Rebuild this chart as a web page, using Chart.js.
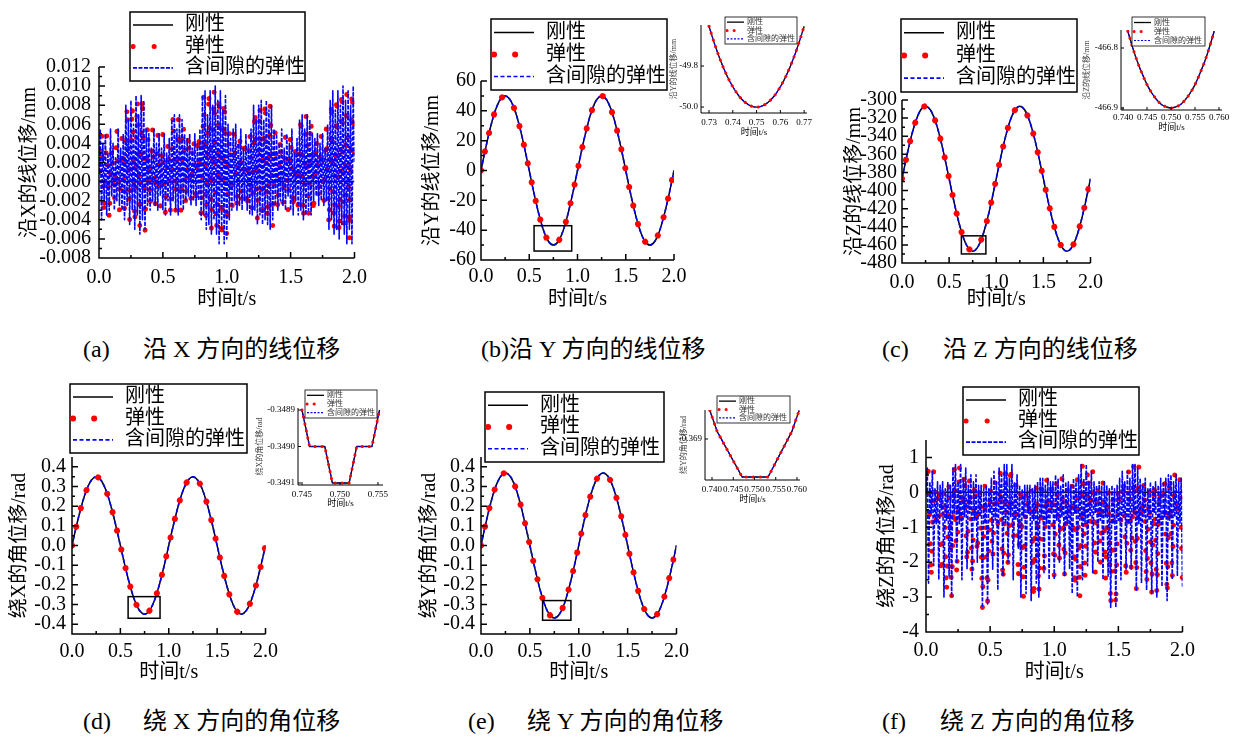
<!DOCTYPE html>
<html>
<head>
<meta charset="utf-8">
<script src="https://cdn.jsdelivr.net/npm/chart.js@4.4.1/dist/chart.umd.min.js"></script>
<style>
  body { margin: 0; background: #fff; }
  #page { position: relative; width: 1234px; height: 737px; overflow: hidden; background: #fff;
          font-family: "Liberation Serif", "Noto Sans CJK SC", serif; }
  #page canvas { position: absolute; }
  .cap { position: absolute; font-size: 24px; line-height: 24px; white-space: pre; color: #000; }
</style>
</head>
<body>
<div id="page">
  <div class="cap" style="left:83px;top:337px">(a)</div>
  <div class="cap" style="left:143px;top:337px">沿 X 方向的线位移</div>
  <div class="cap" style="left:481px;top:337px">(b)沿 Y 方向的线位移</div>
  <div class="cap" style="left:882px;top:337px">(c)</div>
  <div class="cap" style="left:943px;top:337px">沿 Z 方向的线位移</div>
  <div class="cap" style="left:83px;top:709px">(d)</div>
  <div class="cap" style="left:143px;top:709px">绕 X 方向的角位移</div>
  <div class="cap" style="left:468px;top:709px">(e)</div>
  <div class="cap" style="left:527px;top:709px">绕 Y 方向的角位移</div>
  <div class="cap" style="left:882px;top:709px">(f)</div>
  <div class="cap" style="left:940px;top:709px">绕 Z 方向的角位移</div>
</div>
<script>
const FONT = '"Liberation Serif", "Noto Sans CJK SC", serif';
const NAMES = ['刚性', '弹性', '含间隙的弹性'];
const X_TITLE = '时间t/s';

// time grids
const tCoarse = [0, 0.05, 0.10, 0.15, 0.20, 0.25, 0.30, 0.35, 0.40, 0.45,
  0.50, 0.55, 0.60, 0.65, 0.70, 0.75, 0.80, 0.85, 0.90, 0.95,
  1.00, 1.05, 1.10, 1.15, 1.20, 1.25, 1.30, 1.35, 1.40, 1.45,
  1.50, 1.55, 1.60, 1.65, 1.70, 1.75, 1.80, 1.85, 1.90, 1.95, 2.00];
const tFine = [0, 0.02, 0.04, 0.06, 0.08, 0.10, 0.12, 0.14, 0.16, 0.18,
  0.20, 0.22, 0.24, 0.26, 0.28, 0.30, 0.32, 0.34, 0.36, 0.38,
  0.40, 0.42, 0.44, 0.46, 0.48, 0.50, 0.52, 0.54, 0.56, 0.58,
  0.60, 0.62, 0.64, 0.66, 0.68, 0.70, 0.72, 0.74, 0.76, 0.78,
  0.80, 0.82, 0.84, 0.86, 0.88, 0.90, 0.92, 0.94, 0.96, 0.98,
  1.00, 1.02, 1.04, 1.06, 1.08, 1.10, 1.12, 1.14, 1.16, 1.18,
  1.20, 1.22, 1.24, 1.26, 1.28, 1.30, 1.32, 1.34, 1.36, 1.38,
  1.40, 1.42, 1.44, 1.46, 1.48, 1.50, 1.52, 1.54, 1.56, 1.58,
  1.60, 1.62, 1.64, 1.66, 1.68, 1.70, 1.72, 1.74, 1.76, 1.78,
  1.80, 1.82, 1.84, 1.86, 1.88, 1.90, 1.92, 1.94, 1.96, 1.98, 2.00];
const tDense = [0, 0.01, 0.02, 0.03, 0.04, 0.05, 0.06, 0.07, 0.08, 0.09,
  0.10, 0.11, 0.12, 0.13, 0.14, 0.15, 0.16, 0.17, 0.18, 0.19,
  0.20, 0.21, 0.22, 0.23, 0.24, 0.25, 0.26, 0.27, 0.28, 0.29,
  0.30, 0.31, 0.32, 0.33, 0.34, 0.35, 0.36, 0.37, 0.38, 0.39,
  0.40, 0.41, 0.42, 0.43, 0.44, 0.45, 0.46, 0.47, 0.48, 0.49,
  0.50, 0.51, 0.52, 0.53, 0.54, 0.55, 0.56, 0.57, 0.58, 0.59,
  0.60, 0.61, 0.62, 0.63, 0.64, 0.65, 0.66, 0.67, 0.68, 0.69,
  0.70, 0.71, 0.72, 0.73, 0.74, 0.75, 0.76, 0.77, 0.78, 0.79,
  0.80, 0.81, 0.82, 0.83, 0.84, 0.85, 0.86, 0.87, 0.88, 0.89,
  0.90, 0.91, 0.92, 0.93, 0.94, 0.95, 0.96, 0.97, 0.98, 0.99,
  1.00, 1.01, 1.02, 1.03, 1.04, 1.05, 1.06, 1.07, 1.08, 1.09,
  1.10, 1.11, 1.12, 1.13, 1.14, 1.15, 1.16, 1.17, 1.18, 1.19,
  1.20, 1.21, 1.22, 1.23, 1.24, 1.25, 1.26, 1.27, 1.28, 1.29,
  1.30, 1.31, 1.32, 1.33, 1.34, 1.35, 1.36, 1.37, 1.38, 1.39,
  1.40, 1.41, 1.42, 1.43, 1.44, 1.45, 1.46, 1.47, 1.48, 1.49,
  1.50, 1.51, 1.52, 1.53, 1.54, 1.55, 1.56, 1.57, 1.58, 1.59,
  1.60, 1.61, 1.62, 1.63, 1.64, 1.65, 1.66, 1.67, 1.68, 1.69,
  1.70, 1.71, 1.72, 1.73, 1.74, 1.75, 1.76, 1.77, 1.78, 1.79,
  1.80, 1.81, 1.82, 1.83, 1.84, 1.85, 1.86, 1.87, 1.88, 1.89,
  1.90, 1.91, 1.92, 1.93, 1.94, 1.95, 1.96, 1.97, 1.98, 1.99, 2.00];
const tEnds = [0, 2];
const rigidZero = [0, 0];

// (a) 沿X的线位移/mm : elastic (red) and elastic with clearance (blue)
const xLinear = [0.0010, 0.0055, -0.0040, 0.0050, -0.0040, 0.0040, -0.0025, 0.0055, -0.0030, 0.0050,
  -0.0030, 0.0080, -0.0040, 0.0085, -0.0045, 0.0090, -0.0050, 0.0090, -0.0055, 0.0060,
  -0.0030, 0.0055, -0.0025, 0.0050, -0.0030, 0.0050, -0.0035, 0.0045, -0.0035, 0.0070,
  -0.0030, 0.0070, -0.0035, 0.0065, -0.0030, 0.0050, -0.0020, 0.0050, -0.0025, 0.0055,
  -0.0040, 0.0090, -0.0045, 0.0095, -0.0050, 0.0100, -0.0055, 0.0095, -0.0065, 0.0090,
  -0.0060, 0.0060, -0.0040, 0.0055, -0.0030, 0.0055, -0.0025, 0.0050, -0.0030, 0.0055,
  -0.0035, 0.0080, -0.0040, 0.0080, -0.0045, 0.0085, -0.0045, 0.0080, -0.0050, 0.0055,
  -0.0030, 0.0050, -0.0025, 0.0050, -0.0030, 0.0055, -0.0030, 0.0045, -0.0035, 0.0070,
  -0.0040, 0.0070, -0.0035, 0.0065, -0.0035, 0.0050, -0.0020, 0.0050, -0.0025, 0.0060,
  -0.0050, 0.0085, -0.0055, 0.0095, -0.0060, 0.0100, -0.0055, 0.0095, -0.0065, 0.0100, 0.0020];
const xLinearGap = [0.0010, 0.0055, -0.0040, 0.0040, -0.0020, 0.0050, -0.0035, 0.0030, -0.0030, 0.0055,
  -0.0015, 0.0040, -0.0030, 0.0025, -0.0020, 0.0055, -0.0025, 0.0035, -0.0030, 0.0050,
  -0.0040, 0.0080, -0.0025, 0.0065, -0.0045, 0.0085, -0.0030, 0.0060, -0.0050, 0.0090,
  -0.0035, 0.0070, -0.0055, 0.0090, -0.0040, 0.0085, -0.0050, 0.0055, -0.0025, 0.0050,
  -0.0030, 0.0035, -0.0020, 0.0055, -0.0025, 0.0040, -0.0030, 0.0050, -0.0015, 0.0035,
  -0.0030, 0.0050, -0.0035, 0.0030, -0.0020, 0.0045, -0.0035, 0.0065, -0.0020, 0.0070,
  -0.0030, 0.0055, -0.0035, 0.0070, -0.0025, 0.0065, -0.0030, 0.0050, -0.0020, 0.0045,
  -0.0015, 0.0050, -0.0025, 0.0035, -0.0020, 0.0050, -0.0025, 0.0040, -0.0020, 0.0055,
  -0.0040, 0.0090, -0.0035, 0.0095, -0.0050, 0.0070, -0.0045, 0.0095, -0.0055, 0.0080,
  -0.0040, 0.0100, -0.0055, 0.0085, -0.0065, 0.0095, -0.0050, 0.0075, -0.0065, 0.0090,
  -0.0060, 0.0060, -0.0040, 0.0045, -0.0030, 0.0055, -0.0020, 0.0060, -0.0030, 0.0040,
  -0.0025, 0.0055, -0.0030, 0.0035, -0.0020, 0.0050, -0.0030, 0.0040, -0.0035, 0.0055,
  -0.0035, 0.0080, -0.0030, 0.0065, -0.0045, 0.0080, -0.0035, 0.0085, -0.0045, 0.0065,
  -0.0040, 0.0085, -0.0045, 0.0075, -0.0050, 0.0080, -0.0040, 0.0055, -0.0025, 0.0050,
  -0.0030, 0.0040, -0.0020, 0.0055, -0.0025, 0.0035, -0.0030, 0.0050, -0.0015, 0.0040,
  -0.0030, 0.0055, -0.0035, 0.0030, -0.0020, 0.0045, -0.0035, 0.0065, -0.0030, 0.0070,
  -0.0040, 0.0055, -0.0035, 0.0070, -0.0030, 0.0065, -0.0035, 0.0050, -0.0020, 0.0045,
  -0.0015, 0.0050, -0.0025, 0.0040, -0.0020, 0.0050, -0.0025, 0.0035, -0.0020, 0.0060,
  -0.0050, 0.0085, -0.0040, 0.0095, -0.0055, 0.0075, -0.0050, 0.0095, -0.0060, 0.0080,
  -0.0045, 0.0100, -0.0055, 0.0085, -0.0065, 0.0095, -0.0050, 0.0080, -0.0065, 0.0100, 0.0020];

// (b) 沿Y的线位移/mm
const yLinear = [0, 15.5, 29.4, 40.5, 47.6, 50, 47.6, 40.5, 29.4, 15.5,
  0, -15.5, -29.4, -40.5, -47.6, -50, -47.6, -40.5, -29.4, -15.5,
  0, 15.5, 29.4, 40.5, 47.6, 50, 47.6, 40.5, 29.4, 15.5,
  0, -15.5, -29.4, -40.5, -47.6, -50, -47.6, -40.5, -29.4, -15.5, 0];

// (c) 沿Z的线位移/mm
const zLinear = [-386.9, -362.2, -339.9, -322.2, -310.8, -306.9, -310.8, -322.2, -339.9, -362.2,
  -386.9, -411.6, -433.9, -451.6, -463.0, -466.9, -463.0, -451.6, -433.9, -411.6,
  -386.9, -362.2, -339.9, -322.2, -310.8, -306.9, -310.8, -322.2, -339.9, -362.2,
  -386.9, -411.6, -433.9, -451.6, -463.0, -466.9, -463.0, -451.6, -433.9, -411.6, -386.9];

// (d) 绕X的角位移/rad
const xAngle = [0, 0.108, 0.205, 0.282, 0.332, 0.349, 0.332, 0.282, 0.205, 0.108,
  0, -0.108, -0.205, -0.282, -0.332, -0.349, -0.332, -0.282, -0.205, -0.108,
  0, 0.108, 0.205, 0.282, 0.332, 0.349, 0.332, 0.282, 0.205, 0.108,
  0, -0.108, -0.205, -0.282, -0.332, -0.349, -0.332, -0.282, -0.205, -0.108, 0];

// (e) 绕Y的角位移/rad
const yAngle = [0, 0.114, 0.217, 0.299, 0.351, 0.369, 0.351, 0.299, 0.217, 0.114,
  0, -0.114, -0.217, -0.299, -0.351, -0.369, -0.351, -0.299, -0.217, -0.114,
  0, 0.114, 0.217, 0.299, 0.351, 0.369, 0.351, 0.299, 0.217, 0.114,
  0, -0.114, -0.217, -0.299, -0.351, -0.369, -0.351, -0.299, -0.217, -0.114, 0];

// (f) 绕Z的角位移/rad
const zAngle = [0.0, 0.70, -2.60, 0.60, -0.80, 0.30, -2.50, 0.20, -3.00, 0.30,
  -3.00, 0.70, -2.40, 0.80, -0.90, 0.70, -2.20, 0.50, -2.50, 0.40,
  -1.80, 0.20, -3.30, 0.30, -3.20, 0.20, -2.00, 0.40, -0.90, 0.60,
  -2.70, 0.70, -2.20, 0.80, -1.50, 0.50, -2.50, 0.20, -3.00, 0.20,
  -0.70, 0.20, -3.10, 0.30, -3.00, 0.40, -2.30, 0.40, -0.80, 0.30,
  -2.50, 0.50, -2.00, 0.40, -2.40, 0.30, -0.90, 0.30, -2.90, 0.40,
  -3.00, 0.80, -2.50, 0.80, -1.00, 0.60, -2.30, 0.30, -2.00, 0.30,
  -2.50, 0.20, -3.30, 0.20, -3.30, 0.30, -0.80, 0.40, -2.50, 0.60,
  -2.20, 0.80, -2.80, 0.80, -0.90, 0.40, -2.80, 0.20, -2.90, 0.30,
  -3.00, 0.20, -0.80, 0.40, -3.10, 0.50, -2.50, 0.50, -0.70, 0.40, -2.80];
const zAngleGap = [0.0, 0.7, -2.6, 0.3, -0.6, 0.6, -2.1, 0.1, -0.9, 0.3,
  -2.5, 0.2, -0.5, 0.3, -3.0, 0.1, -0.8, 0.3, -2.4, 0.2,
  -3.0, 0.7, -0.6, 0.8, -2.0, 0.3, -0.9, 0.8, -2.5, 0.4,
  -0.7, 0.7, -2.2, 0.2, -0.6, 0.5, -2.5, 0.3, -0.8, 0.5,
  -2.0, 0.2, -0.7, 0.2, -3.3, 0.1, -0.9, 0.2, -3.2, 0.1,
  -0.6, 0.4, -2.2, 0.6, -0.8, 0.3, -2.8, 0.7, -0.6, 0.5,
  -2.4, 0.8, -0.9, 0.8, -2.0, 0.4, -0.7, 0.8, -2.5, 0.3,
  -0.8, 0.5, -1.6, 0.2, -3.0, 0.1, -0.7, 0.2, -2.9, 0.2,
  -0.6, 0.2, -3.1, 0.1, -0.8, 0.2, -2.6, 0.3, -3.0, 0.4,
  -0.7, 0.4, -2.3, 0.2, -0.9, 0.4, -2.5, 0.3, -0.6, 0.3,
  -2.5, 0.5, -0.8, 0.4, -2.0, 0.2, -0.7, 0.5, -2.4, 0.3,
  -0.9, 0.3, -2.2, 0.2, -2.9, 0.4, -0.6, 0.3, -3.0, 0.5,
  -0.8, 0.8, -2.5, 0.4, -0.9, 0.8, -2.1, 0.3, -0.7, 0.6,
  -2.3, 0.3, -0.6, 0.2, -2.0, 0.3, -0.8, 0.2, -2.5, 0.3,
  -0.7, 0.2, -2.4, 0.1, -3.3, 0.2, -0.9, 0.1, -3.3, 0.2,
  -0.8, 0.4, -2.5, 0.6, -0.7, 0.3, -2.2, 0.6, -0.9, 0.4,
  -2.2, 0.8, -0.6, 0.8, -2.8, 0.7, -0.9, 0.4, -2.6, 0.2,
  -0.7, 0.4, -2.8, 0.1, -0.8, 0.3, -2.9, 0.2, -0.6, 0.3,
  -3.0, 0.2, -0.9, 0.4, -2.7, 0.3, -0.7, 0.4, -3.1, 0.5,
  -0.8, 0.5, -2.5, 0.3, -0.7, 0.5, -2.4, 0.3, -0.9, 0.4, -2.7];

// insets (zoom around t = 0.75 s)
const tZoomY = [0.7300, 0.7325, 0.7350, 0.7375, 0.7400, 0.7425, 0.7450, 0.7475, 0.7500,
  0.7525, 0.7550, 0.7575, 0.7600, 0.7625, 0.7650, 0.7675, 0.7700];
const yZoom = [-49.606, -49.698, -49.778, -49.846, -49.901, -49.945, -49.975, -49.994, -50.000,
  -49.994, -49.975, -49.945, -49.901, -49.846, -49.778, -49.698, -49.606];
const tZoomZ = [0.741, 0.742, 0.743, 0.744, 0.745, 0.746, 0.747, 0.748, 0.749, 0.750,
  0.751, 0.752, 0.753, 0.754, 0.755, 0.756, 0.757, 0.758, 0.759];
const zZoom = [-466.772, -466.799, -466.823, -466.843, -466.861, -466.875, -466.886, -466.894, -466.898, -466.900,
  -466.898, -466.894, -466.886, -466.875, -466.861, -466.843, -466.823, -466.799, -466.772];
const tZoomRX = [0.7450, 0.7460, 0.7480, 0.7490, 0.7512, 0.7522, 0.7542, 0.7552];
const rxZoom = [-0.3489, -0.3490, -0.3490, -0.3491, -0.3491, -0.3490, -0.3490, -0.3489];
const tZoomRY = [0.7395, 0.7412, 0.7471, 0.7532, 0.7588, 0.7605];
const ryZoom = [-0.36885, -0.36896, -0.36920, -0.36920, -0.36896, -0.36885];

// tick labels
const tTicks = [0, 0.5, 1, 1.5, 2];
const xLinTicks = [-0.008, -0.006, -0.004, -0.002, 0, 0.002, 0.004, 0.006, 0.008, 0.010, 0.012];
const yLinTicks = [-60, -40, -20, 0, 20, 40, 60];
const zLinTicks = [-480, -460, -440, -420, -400, -380, -360, -340, -320, -300];
const angTicks = [-0.4, -0.3, -0.2, -0.1, 0, 0.1, 0.2, 0.3, 0.4];
const zAngTicks = [-4, -3, -2, -1, 0, 1];
const zoomYxTicks = [0.73, 0.74, 0.75, 0.76, 0.77];
const zoomYyTicks = [-50.0, -49.8];
const zoomZxTicks = [0.740, 0.745, 0.750, 0.755, 0.760];
const zoomZyTicks = [-466.9, -466.8];
const zoomRXxTicks = [0.745, 0.750, 0.755];
const zoomRXyTicks = [-0.3491, -0.3490, -0.3489];
const zoomRYxTicks = [0.740, 0.745, 0.750, 0.755, 0.760];
const zoomRYyTicks = [-0.369];

const page = document.getElementById('page');
const decor = new Map();

function mids(vals) {
  const out = [];
  for (let i = 1; i < vals.length; i++) out.push((vals[i - 1] + vals[i]) / 2);
  return out;
}

// axes with inward ticks, zoom box and framed legend
Chart.register({
  id: 'decor',
  afterDraw(chart) {
    const d = decor.get(chart.canvas);
    if (!d) return;
    const ctx = chart.ctx;
    const a = chart.chartArea;
    const sx = chart.scales.x, sy = chart.scales.y;
    ctx.save();
    ctx.strokeStyle = '#000';
    ctx.lineWidth = d.axisW;
    ctx.setLineDash([]);
    ctx.beginPath();
    ctx.moveTo(a.left, a.top);
    ctx.lineTo(a.left, a.bottom);
    ctx.lineTo(a.right, a.bottom);
    d.xTicks.forEach(v => { const p = sx.getPixelForValue(v); ctx.moveTo(p, a.bottom); ctx.lineTo(p, a.bottom - d.tick); });
    d.yTicks.forEach(v => { const p = sy.getPixelForValue(v); ctx.moveTo(a.left, p); ctx.lineTo(a.left + d.tick, p); });
    if (d.minor) {
      mids(d.xTicks).forEach(v => { const p = sx.getPixelForValue(v); ctx.moveTo(p, a.bottom); ctx.lineTo(p, a.bottom - d.tick / 2); });
      mids(d.yTicks).forEach(v => { const p = sy.getPixelForValue(v); ctx.moveTo(a.left, p); ctx.lineTo(a.left + d.tick / 2, p); });
    }
    ctx.stroke();

    if (d.box) {
      const [x0, x1, y0, y1] = d.box;
      const px0 = sx.getPixelForValue(x0), px1 = sx.getPixelForValue(x1);
      const py0 = sy.getPixelForValue(y0), py1 = sy.getPixelForValue(y1);
      ctx.strokeRect(px0, py1, px1 - px0, py0 - py1);
    }

    const L = d.legend;
    ctx.fillStyle = '#fff';
    ctx.fillRect(L.x, L.y, L.w, L.h);
    ctx.lineWidth = L.lw;
    ctx.strokeRect(L.x, L.y, L.w, L.h);
    ctx.font = L.size + 'px ' + FONT;
    ctx.textBaseline = 'middle';
    ctx.fillStyle = L.color;
    [2, 0, 1].forEach((di, row) => {
      const ds = chart.data.datasets[di];
      const y = L.y + L.h * [0.19, 0.5, 0.81][row];
      ctx.save();
      ctx.strokeStyle = ds.borderColor;
      ctx.lineWidth = ds.borderWidth;
      ctx.setLineDash(row === 1 ? L.dotDash : (ds.borderDash || []));
      ctx.lineCap = ds.borderCapStyle || 'butt';
      ctx.beginPath();
      ctx.moveTo(L.x + L.s0, y);
      ctx.lineTo(L.x + L.s0 + L.len[row], y);
      ctx.stroke();
      ctx.restore();
      ctx.fillText(ds.label, L.x + L.tx, y);
    });
    ctx.restore();
  }
});

function panel(p) {
  const [L, T, R, B] = p.plot;
  const sm = !!p.small;
  const tf = sm ? 9 : 20;
  const yf = sm ? 8 : 20;
  const lg = p.legend;
  const cl = Math.round(p.yTitleX - yf * 0.6);
  const ct = Math.min(lg[1], T) - 4;
  const cr = Math.min(1234, Math.max(R + (sm ? 12 : 18), lg[0] + lg[2] + 3));
  const cb = Math.round(p.xTitleY + tf * 0.6);
  const dotW = p.dotW || (sm ? 3 : 6);
  const dotDash = p.dotDash || (sm ? [0.1, 7] : [0.1, 19]);

  const cv = document.createElement('canvas');
  cv.width = cr - cl;
  cv.height = cb - ct;
  cv.style.left = cl + 'px';
  cv.style.top = ct + 'px';
  page.appendChild(cv);

  decor.set(cv, {
    xTicks: p.xTicks, yTicks: p.yTicks, tick: sm ? 3 : 6, axisW: sm ? 1 : 1.5, minor: !sm, box: p.box,
    legend: { x: lg[0] - cl, y: lg[1] - ct, w: lg[2], h: lg[3], size: sm ? 8 : 20, lw: sm ? 0.8 : 1.5,
      s0: sm ? 2 : 3, tx: sm ? 22 : 55, len: sm ? [17, 12, 17] : [40, 24, 40], color: sm ? '#333' : '#000',
      dotDash: sm ? [0.1, 7] : [0.1, 21] }
  });

  const pts = (t, v) => t.map((x, i) => ({ x: x, y: v[i] }));
  const smooth = p.curve === 'monotone';
  const common = { pointRadius: 0, fill: false, borderJoinStyle: 'round',
    tension: smooth ? 0.4 : 0, cubicInterpolationMode: smooth ? 'monotone' : 'default' };
  const [rig, ela, gap] = p.lines;

  new Chart(cv, {
    type: 'line',
    data: {
      datasets: [
        Object.assign({ label: NAMES[1], data: pts(ela[0], ela[1]), borderColor: '#ff0000', order: p.blueTop ? 1 : 0,
          borderWidth: dotW, borderDash: dotDash, borderCapStyle: 'round' }, common),
        Object.assign({ label: NAMES[2], data: pts(gap[0], gap[1]), borderColor: '#0000ff', order: p.blueTop ? 0 : 1,
          borderWidth: p.gapW || (sm ? 1.2 : 1.6), borderDash: p.gapDash || (sm ? [2, 1.5] : [4, 2.5]) }, common),
        Object.assign({ label: NAMES[0], data: pts(rig[0], rig[1]), borderColor: '#000000', order: 2,
          borderWidth: sm ? 1.3 : 1.5 }, common)
      ]
    },
    options: {
      responsive: false,
      animation: false,
      devicePixelRatio: 1,
      events: [],
      layout: { padding: { left: 0, top: T - ct, right: cr - R, bottom: 0 } },
      plugins: { legend: { display: false }, tooltip: { enabled: false } },
      scales: {
        x: {
          type: 'linear', min: p.x[0], max: p.x[1],
          grid: { display: false, drawTicks: false }, border: { display: false },
          afterFit: s => { s.height = cb - B; },
          afterBuildTicks: s => { s.ticks = p.xTicks.map(v => ({ value: v })); },
          ticks: { autoSkip: false, maxRotation: 0, padding: p.xPad, color: '#000',
            font: { family: FONT, size: tf }, callback: v => v.toFixed(p.xDec) },
          title: { display: true, text: X_TITLE, color: '#000', padding: 0, font: { family: FONT, size: tf } }
        },
        y: {
          type: 'linear', min: p.y[0], max: p.y[1],
          grid: { display: false, drawTicks: false }, border: { display: false },
          afterFit: s => { s.width = L - cl; },
          afterBuildTicks: s => { s.ticks = p.yTicks.map(v => ({ value: v })); },
          ticks: { autoSkip: false, padding: p.yPad, color: '#000',
            font: { family: FONT, size: tf }, callback: v => v.toFixed(p.yDec) },
          title: { display: true, text: p.yTitle, color: sm ? '#444' : '#000', padding: 0, font: { family: FONT, size: yf } }
        }
      }
    }
  });
}

// (a)
panel({ plot: [99, 67, 357, 258], x: [0, 2], y: [-0.008, 0.012], xTicks: tTicks, yTicks: xLinTicks,
  xDec: 1, yDec: 3, xPad: 8, yPad: 8, yTitle: '沿X的线位移/mm', yTitleX: 30, xTitleY: 300,
  legend: [130, 12, 175, 69], curve: 'linear', blueTop: true,
  dotW: 5, dotDash: [0.1, 21, 0.1, 29], gapW: 1.6, gapDash: [4, 1.5],
  lines: [[tEnds, rigidZero], [tFine, xLinear], [tDense, xLinearGap]] });
// (b)
panel({ plot: [481, 81, 674, 260], x: [0, 2], y: [-60, 60], xTicks: tTicks, yTicks: yLinTicks,
  xDec: 1, yDec: 0, xPad: 5, yPad: 5, yTitle: '沿Y的线位移/mm', yTitleX: 433, xTitleY: 300,
  legend: [491, 19, 176, 71], curve: 'monotone', box: [0.55, 0.94, -54, -37],
  lines: [[tCoarse, yLinear], [tCoarse, yLinear], [tCoarse, yLinear]] });
// (c)
panel({ plot: [902, 100, 1093, 263], x: [0, 2], y: [-480, -300], xTicks: tTicks, yTicks: zLinTicks,
  xDec: 1, yDec: 0, xPad: 8, yPad: 5, yTitle: '沿Z的线位移/mm', yTitleX: 855, xTitleY: 300,
  legend: [901, 19, 176, 73], curve: 'monotone', box: [0.63, 0.89, -470, -450],
  lines: [[tCoarse, zLinear], [tCoarse, zLinear], [tCoarse, zLinear]] });
// (d)
panel({ plot: [72, 457, 266, 634], x: [0, 2], y: [-0.45, 0.45], xTicks: tTicks, yTicks: angTicks,
  xDec: 1, yDec: 1, xPad: 6, yPad: 6, yTitle: '绕X的角位移/rad', yTitleX: 20, xTitleY: 673,
  legend: [70, 384, 177, 69], curve: 'monotone', box: [0.58, 0.91, -0.37, -0.26],
  lines: [[tCoarse, xAngle], [tCoarse, xAngle], [tCoarse, xAngle]] });
// (e)
panel({ plot: [481, 457, 677, 634], x: [0, 2], y: [-0.45, 0.45], xTicks: tTicks, yTicks: angTicks,
  xDec: 1, yDec: 1, xPad: 6, yPad: 6, yTitle: '绕Y的角位移/rad', yTitleX: 430, xTitleY: 673,
  legend: [485, 392, 179, 70], curve: 'monotone', box: [0.63, 0.92, -0.38, -0.28],
  lines: [[tCoarse, yAngle], [tCoarse, yAngle], [tCoarse, yAngle]] });
// (f)
panel({ plot: [926, 440, 1184, 632], x: [0, 2], y: [-4, 1.5], xTicks: tTicks, yTicks: zAngTicks,
  xDec: 1, yDec: 0, xPad: 7, yPad: 7, yTitle: '绕Z的角位移/rad', yTitleX: 888, xTitleY: 673,
  legend: [963, 387, 176, 68], curve: 'linear', blueTop: true,
  dotW: 5, dotDash: [0.1, 21, 0.1, 29], gapW: 1.6, gapDash: [4, 1.5],
  lines: [[tEnds, rigidZero], [tFine, zAngle], [tDense, zAngleGap]] });

// insets
panel({ small: true, plot: [701, 25, 807, 113], x: [0.72663, 0.7712], y: [-50.029, -49.6],
  xTicks: zoomYxTicks, yTicks: zoomYyTicks, xDec: 2, yDec: 1, xPad: 4, yPad: 3,
  yTitle: '沿Y的线位移/mm', yTitleX: 674, xTitleY: 133, legend: [725, 17, 72, 27], curve: 'monotone',
  lines: [[tZoomY, yZoom], [tZoomY, yZoom], [tZoomY, yZoom]] });
panel({ small: true, plot: [1121, 30, 1222, 110], x: [0.73958, 0.760625], y: [-466.9033, -466.77],
  xTicks: zoomZxTicks, yTicks: zoomZyTicks, xDec: 3, yDec: 1, xPad: 2, yPad: 3,
  yTitle: '沿Z的线位移/mm', yTitleX: 1087, xTitleY: 128, legend: [1132, 17, 73, 29], curve: 'monotone',
  lines: [[tZoomZ, zZoom], [tZoomZ, zZoom], [tZoomZ, zZoom]] });
panel({ small: true, plot: [298, 408, 383, 485], x: [0.744474, 0.755658], y: [-0.3491055, -0.3488945],
  xTicks: zoomRXxTicks, yTicks: zoomRXyTicks, xDec: 3, yDec: 4, xPad: 4, yPad: 3,
  yTitle: '绕X的角位移/rad', yTitleX: 260, xTitleY: 504, legend: [305, 390, 72, 28], curve: 'linear',
  lines: [[tZoomRX, rxZoom], [tZoomRX, rxZoom], [tZoomRX, rxZoom]] });
panel({ small: true, plot: [705, 410, 800, 480], x: [0.738353, 0.760706], y: [-0.3692158, -0.3688474],
  xTicks: zoomRYxTicks, yTicks: zoomRYyTicks, xDec: 3, yDec: 3, xPad: 4, yPad: 3,
  yTitle: '绕Y的角位移/rad', yTitleX: 684, xTitleY: 500, legend: [717, 396, 73, 27], curve: 'linear',
  lines: [[tZoomRY, ryZoom], [tZoomRY, ryZoom], [tZoomRY, ryZoom]] });
</script>
</body>
</html>
